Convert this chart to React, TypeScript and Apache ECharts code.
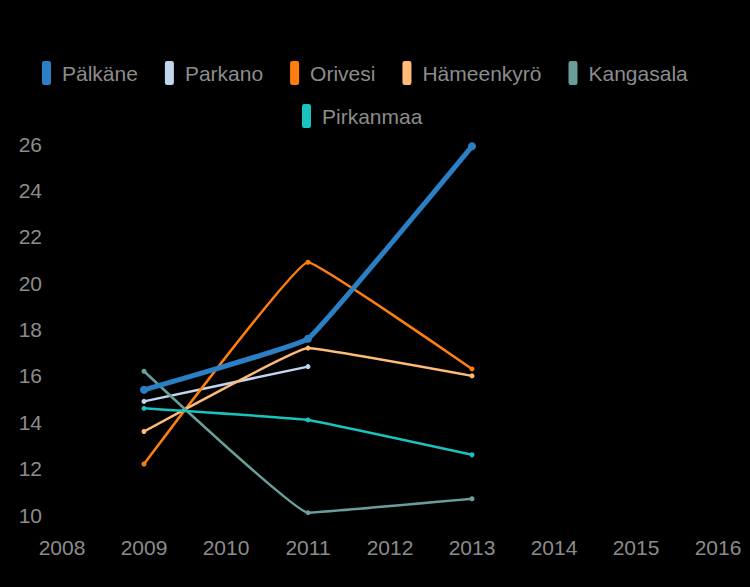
import React, { useEffect, useRef } from "react";
import * as echarts from "echarts";

const years = [2009, 2011, 2013];
const seriesNames = ["Pälkäne", "Parkano", "Orivesi", "Hämeenkyrö", "Kangasala", "Pirkanmaa"];
const palkane = [15.4, 17.6, 25.9];
const parkano = [14.9, 16.4, null];
const orivesi = [12.2, 20.9, 16.3];
const hameenkyro = [13.6, 17.2, 16.0];
const kangasala = [16.2, 10.1, 10.7];
const pirkanmaa = [14.6, 14.1, 12.6];
const seriesValues = [palkane, parkano, orivesi, hameenkyro, kangasala, pirkanmaa];
const colors = ["#2b80c5", "#c3d6ef", "#ff7f0e", "#ffbb78", "#6a9e9a", "#19c4c0"];
const widths = [5, 2.5, 2.5, 2.5, 2.5, 2.5];
const symbolSizes = [8, 5, 5, 5, 5, 5];

export default function App() {
  const ref = useRef<HTMLDivElement>(null);
  useEffect(() => {
    if (!ref.current) return;
    const chart = echarts.init(ref.current, null, { renderer: "svg" });
    const textColor = "#8c8c8c";
    const font = "Liberation Sans, Arial, sans-serif";
    const legendBase = {
      itemWidth: 9,
      itemHeight: 24,
      itemGap: 27,
      icon: "roundRect",
      textStyle: { color: textColor, fontSize: 21, fontFamily: font, padding: [0, 0, 0, 6] },
    };
    chart.setOption({
      animation: false,
      backgroundColor: "#000000",
      color: colors,
      legend: [
        { ...legendBase, left: 37, top: 56, data: seriesNames.slice(0, 5) },
        { ...legendBase, left: 297, top: 99, data: seriesNames.slice(5) },
      ],
      grid: { left: 62, right: 32, top: 144, bottom: 72, containLabel: false },
      xAxis: {
        type: "value",
        min: 2008,
        max: 2016,
        interval: 1,
        axisLine: { show: false },
        axisTick: { show: false },
        splitLine: { show: false },
        axisLabel: {
          color: textColor,
          fontSize: 21,
          fontFamily: font,
          margin: 22,
          formatter: (v: number) => String(v),
        },
      },
      yAxis: {
        type: "value",
        min: 10,
        max: 26,
        interval: 2,
        axisLine: { show: false },
        axisTick: { show: false },
        splitLine: { show: false },
        axisLabel: { color: textColor, fontSize: 21, fontFamily: font, margin: 20 },
      },
      series: seriesNames.map((name, i) => ({
        name,
        type: "line",
        smooth: 0.07,
        data: years.map((y, j) => [y, seriesValues[i][j]]).filter((d) => d[1] !== null),
        symbol: "circle",
        symbolSize: symbolSizes[i],
        lineStyle: { width: widths[i], color: colors[i] },
        itemStyle: { color: colors[i] },
        z: i === 0 ? 10 : 2,
      })),
    });
    return () => chart.dispose();
  }, []);
  return (
    <div
      ref={ref}
      style={{ position: "fixed", left: 0, top: 0, width: 750, height: 587 }}
    />
  );
}
